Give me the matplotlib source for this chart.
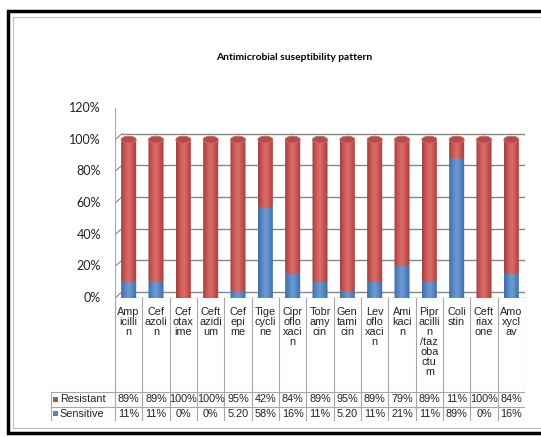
import numpy as np
import matplotlib
matplotlib.use("Agg")
import matplotlib.pyplot as plt
from matplotlib.colors import LinearSegmentedColormap
from matplotlib.patches import Rectangle, Ellipse, Polygon
from matplotlib.lines import Line2D
from matplotlib import transforms

# Data
drugs = ["Ampicillin", "Cefazolin", "Cefotaxime", "Ceftazidium", "Cefepime",
         "Tigecycline", "Ciprofloxacin", "Tobramycin", "Gentamicin", "Levofloxacin",
         "Amikacin", "Pipracillin/tazobactum", "Colistin", "Ceftriaxone", "Amoxyclav"]
drug_labels = ["Amp\nicilli\nn", "Cef\nazoli\nn", "Cef\notax\nime", "Ceft\nazidi\num",
               "Cef\nepi\nme", "Tige\ncycli\nne", "Cipr\noflo\nxaci\nn", "Tobr\namy\ncin",
               "Gen\ntami\ncin", "Lev\noflo\nxaci\nn", "Ami\nkaci\nn",
               "Pipr\nacilli\nn\n/taz\noba\nctu\nm", "Coli\nstin", "Ceft\nriax\none",
               "Amo\nxycl\nav"]
resistant = [89, 89, 100, 100, 95, 42, 84, 89, 95, 89, 79, 89, 11, 100, 84]
sensitive = [11, 11, 0, 0, 5.2, 58, 16, 11, 5.2, 11, 21, 11, 89, 0, 16]
resistant_text = ["89%", "89%", "100%", "100%", "95%", "42%", "84%", "89%", "95%",
                  "89%", "79%", "89%", "11%", "100%", "84%"]
sensitive_text = ["11%", "11%", "0%", "0%", "5.20", "58%", "16%", "11%", "5.20",
                  "11%", "21%", "11%", "89%", "0%", "16%"]
yticks = [0, 0.2, 0.4, 0.6, 0.8, 1.0, 1.2]

RED = "#C0504D"
BLUE = "#4F81BD"
red_cmap = LinearSegmentedColormap.from_list("r", ["#A33F3C", "#CB5855", "#DB6E6B", "#C65350", "#A33F3C"])
blue_cmap = LinearSegmentedColormap.from_list("b", ["#3F6DA5", "#5688C4", "#6F9BD3", "#5384C0", "#3F6DA5"])

W, H = 541, 437
fig = plt.figure(figsize=(W / 100, H / 100), dpi=100)
fig.patch.set_facecolor("white")


def frame(x0, y0, y1, **kw):
    # open frame: left, top and bottom edges (the right edge is cut off)
    fx0 = x0 / W
    fy0, fy1 = 1 - y0 / H, 1 - y1 / H
    fig.add_artist(Line2D([1.2, fx0, fx0, 1.2], [fy0, fy0, fy1, fy1],
                          transform=fig.transFigure, solid_joinstyle="miter", **kw))


frame(8, 11, 433, lw=2.5, color="black")
frame(13, 17, 428, lw=0.8, color="#BDBDBD")

fig.text(294 / W, 1 - 58 / H, "Antimicrobial suseptibility pattern", ha="center", va="center",
         fontsize=7.4, fontweight="bold", family="Lato")

# main plot
ax = fig.add_axes([115 / W, (H - 298) / H, 410 / W, 190 / H])
ax.set_xlim(-0.5, len(drugs) - 0.5)
ax.set_ylim(0, 1.2)
ax.axis("off")

back = transforms.offset_copy(ax.transData, fig=fig, x=7, y=6, units="dots")
grid_c = "#858585"
for t in yticks:
    ax.plot([-0.5, len(drugs) - 0.5], [t, t], color=grid_c, lw=1.0, transform=back, zorder=1)
    # side wall segment
    p0 = ax.transData.transform((-0.5, t))
    p1 = back.transform((-0.5, t))
    ax.plot([p0[0], p1[0]], [p0[1], p1[1]], color=grid_c, lw=0.8, transform=None, zorder=1)
    ax.text(-0.5, t, f"{int(round(t * 100))}%", ha="right", va="center", fontsize=9,
            family="Lato", color="#222222", transform=transforms.offset_copy(
                ax.transData, fig=fig, x=-14, y=0, units="dots"))
ax.plot([-0.5, -0.5], [0, 1.2], color="#A8A8A8", lw=0.8, zorder=1)
ax.plot([-0.5, len(drugs) - 0.5], [0, 0], color=grid_c, lw=0.9, zorder=1)
q0 = ax.transData.transform((len(drugs) - 0.5, 0))
q1 = back.transform((len(drugs) - 0.5, 0))
ax.plot([q0[0], q1[0]], [q0[1], q1[1]], color=grid_c, lw=0.8, transform=None, zorder=1)

bw = 0.55
eh = 0.022
grad = np.linspace(0, 1, 64).reshape(1, -1)


def cylinder(xc, y0, y1, cmap, z):
    xs = np.linspace(xc - bw / 2, xc + bw / 2, 40)
    arc = y0 - eh * np.sqrt(np.clip(1 - ((xs - xc) / (bw / 2)) ** 2, 0, 1))
    verts = [(xc - bw / 2, y1), (xc + bw / 2, y1)] + list(zip(xs[::-1], arc[::-1]))
    poly = Polygon(verts, closed=True, fc="none", ec="none", zorder=z)
    ax.add_patch(poly)
    im = ax.imshow(grad, cmap=cmap, extent=(xc - bw / 2, xc + bw / 2, y0 - eh, y1),
                   aspect="auto", zorder=z, interpolation="bilinear")
    im.set_clip_path(poly)


for i, (s, r) in enumerate(zip(sensitive, resistant)):
    sv, rv = s / 100, r / 100
    top = min(sv + rv, 1.0)
    if sv > 0:
        cylinder(i, 0, sv + eh / 2, blue_cmap, 3)
    if rv > 0:
        cylinder(i, sv + eh / 2 if sv > 0 else 0, top, red_cmap, 4)
    ax.add_patch(Ellipse((i, top), bw, 2 * eh, fc="#B84A47" if rv > 0 else "#4A78B0",
                         ec="#D06A67" if rv > 0 else "#6E98CC", lw=0.6, zorder=5))
ax.set_xlim(-0.5, len(drugs) - 0.5)
ax.set_ylim(0, 1.2)

# data table
x_left = -0.5 - 64 / 27.333
tax = fig.add_axes([51 / W, (H - 421) / H, 474 / W, 123 / H])
tax.set_xlim(x_left, len(drugs) - 0.5)
tax.set_ylim(0, 123)
tax.axis("off")
line_c = "#A6A6A6"
rs, rr, top_y = 14.5, 29, 123
for k in range(len(drugs) + 1):
    tax.plot([k - 0.5, k - 0.5], [0, top_y], color=line_c, lw=0.8)
tax.plot([x_left, x_left], [0, rr], color=line_c, lw=0.8)
for yy in (0, rs, rr):
    tax.plot([x_left, len(drugs) - 0.5], [yy, yy], color=line_c, lw=0.8)

tfont = dict(family="Liberation Sans", fontsize=7.8, color="#222222")
for i, lab in enumerate(drug_labels):
    tax.text(i, 114, lab, ha="center", va="top", linespacing=1.0, **tfont)
    tax.text(i, (rs + rr) / 2, resistant_text[i], ha="center", va="center", **tfont)
    tax.text(i, rs / 2, sensitive_text[i], ha="center", va="center", **tfont)

for yc, name, col in (((rs + rr) / 2, "Resistant", RED), (rs / 2, "Sensitive", BLUE)):
    tax.add_patch(Rectangle((x_left + 0.08, yc - 2.5), 0.19, 5, fc=col, ec="none"))
    tax.text(x_left + 0.32, yc, name, ha="left", va="center", **tfont)

fig.savefig("out.png", dpi=100)
